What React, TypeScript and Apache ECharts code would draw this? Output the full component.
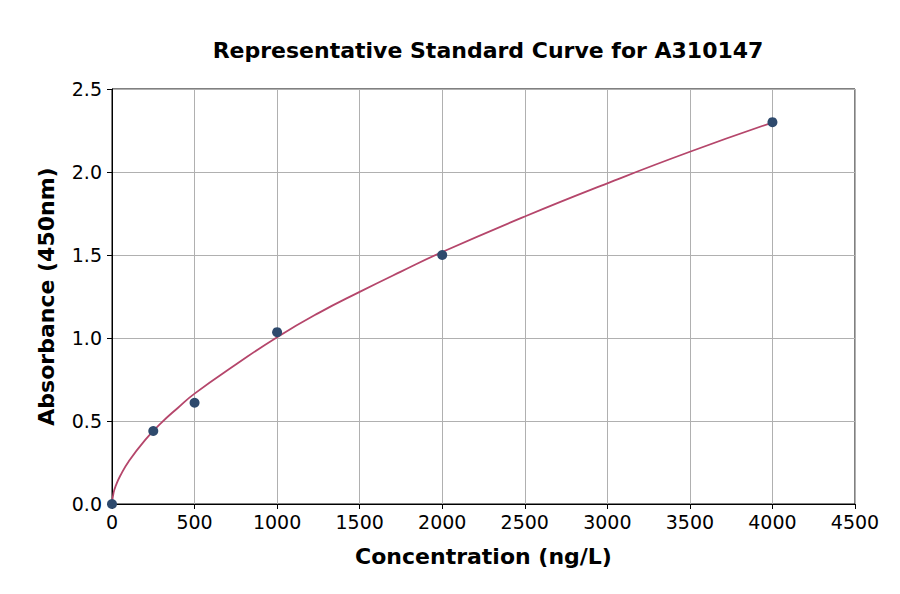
import React, { useEffect, useRef } from 'react';
import * as echarts from 'echarts';

// standard points
const concentrations = [0, 250, 500, 1000, 2000, 4000];
const absorbances = [0, 0.44, 0.61, 1.035, 1.5, 2.3];

// fitted curve
const curveX = [0, 10, 25, 50, 100, 200, 300, 400, 500, 750, 1000, 1250, 1500, 1750, 2000, 2500, 3000, 3500, 4000];
const curveY = [0, 0.07, 0.115, 0.17, 0.255, 0.385, 0.49, 0.58, 0.665, 0.84, 1.005, 1.15, 1.278, 1.4, 1.518, 1.732, 1.932, 2.122, 2.298];

const FONT = 'DejaVu Sans';

const App: React.FC = () => {
  const chartRef = useRef<HTMLDivElement>(null);

  useEffect(() => {
    if (!chartRef.current) return;
    const chart = echarts.init(chartRef.current, null, { renderer: 'svg' });

    const option: echarts.EChartsOption = {
      animation: false,
      title: {
        text: 'Representative Standard Curve for A310147',
        left: 483,
        top: 34,
        textAlign: 'center',
        textStyle: { fontFamily: FONT, fontSize: 22, fontWeight: 'bold', color: '#000' }
      },
      grid: {
        left: 112,
        right: 45,
        top: 89,
        bottom: 90,
        show: true,
        borderColor: '#000',
        borderWidth: 1,
        backgroundColor: 'transparent'
      },
      xAxis: {
        type: 'value',
        min: 0,
        max: 4500,
        interval: 500,
        name: 'Concentration (ng/L)',
        nameLocation: 'middle',
        nameGap: 41,
        nameTextStyle: { fontFamily: FONT, fontSize: 22, fontWeight: 'bold', color: '#000' },
        axisLine: { show: true, lineStyle: { color: '#000', width: 1 } },
        axisTick: { show: true, length: 5, lineStyle: { color: '#000' } },
        axisLabel: {
          fontFamily: FONT,
          fontSize: 19,
          color: '#000',
          margin: 8,
          formatter: (v: number) => String(v)
        },
        splitLine: { show: true, lineStyle: { color: '#b0b0b0', width: 1 } }
      },
      yAxis: {
        type: 'value',
        min: 0,
        max: 2.5,
        interval: 0.5,
        name: 'Absorbance (450nm)',
        nameLocation: 'middle',
        nameGap: 55,
        nameTextStyle: { fontFamily: FONT, fontSize: 22, fontWeight: 'bold', color: '#000' },
        axisLine: { show: true, lineStyle: { color: '#000', width: 1 } },
        axisTick: { show: true, length: 5, lineStyle: { color: '#000' } },
        axisLabel: {
          fontFamily: FONT,
          fontSize: 19,
          color: '#000',
          margin: 10,
          formatter: (v: number) => v.toFixed(1)
        },
        splitLine: { show: true, lineStyle: { color: '#b0b0b0', width: 1 } }
      },
      series: [
        {
          type: 'line',
          data: curveX.map((x, i) => [x, curveY[i]]),
          smooth: true,
          symbol: 'none',
          lineStyle: { color: '#b5466b', width: 1.8 },
          z: 2
        },
        {
          type: 'scatter',
          data: concentrations.map((x, i) => [x, absorbances[i]]),
          symbolSize: 10,
          itemStyle: { color: '#2e4a6d', opacity: 1 },
          z: 3
        }
      ]
    };

    chart.setOption(option);
    return () => {
      chart.dispose();
    };
  }, []);

  return <div ref={chartRef} style={{ width: 900, height: 594, margin: -8 }} />;
};

export default App;
